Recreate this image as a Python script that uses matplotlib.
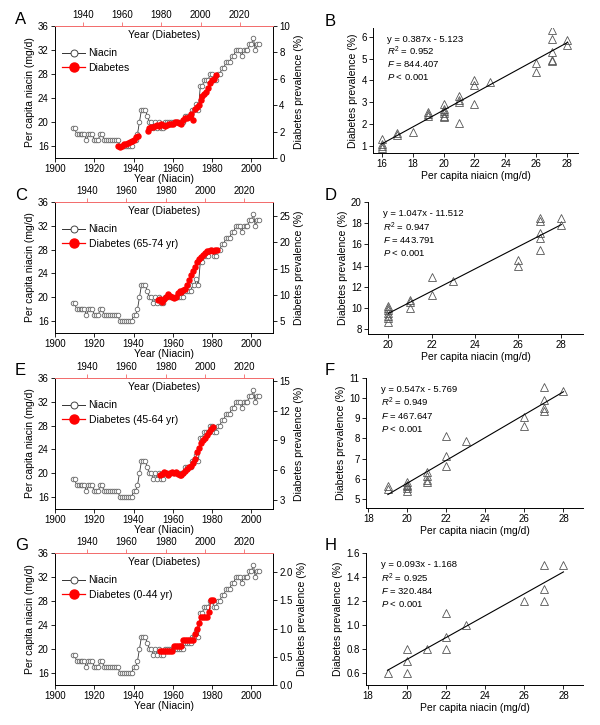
import numpy as np
import matplotlib
matplotlib.use('Agg')
import matplotlib.pyplot as plt
from matplotlib.lines import Line2D

plt.rcParams['font.family'] = ['Liberation Sans', 'DejaVu Sans']
plt.rcParams['mathtext.fontset'] = 'custom'
plt.rcParams['mathtext.rm'] = 'Liberation Sans'
plt.rcParams['mathtext.it'] = 'Liberation Sans:italic'

# --- niacin time series (shared by the four left panels) ---
niacin_years = list(range(1909, 2005))
niacin = [19, 19, 18, 18, 18, 18, 18, 17, 18, 18, 18,          # 1909-1919
          17, 17, 17, 18, 18, 17, 17, 17, 17, 17, 17, 17, 17,  # 1920-1932
          16, 16, 16, 16, 16, 16, 16,                          # 1933-1939
          17, 17, 18, 20, 22, 22, 22, 21, 20, 20,              # 1940s
          19, 20, 19, 20, 19, 19, 20, 20, 20, 20,              # 1950s
          20, 20, 20, 20, 20, 20, 21, 21, 21, 21,              # 1960s
          22, 22, 23, 22, 26, 26, 27, 27, 27, 28,              # 1970s
          28, 27, 27, 28, 28, 29, 29, 30, 30, 30,              # 1980s
          31, 31, 32, 32, 32, 31, 32, 32, 32, 33,              # 1990s
          33, 34, 32, 33, 33]                                  # 2000-2004

# --- diabetes time series (years on the top axis) ---
nan = np.nan
diab_years_all = list(range(1958, 2009))
diab_all = [0.93, 0.86, 0.91, 1.04, 1.05, 1.16, 1.21, 1.28, 1.39, 1.56, 1.65,
            nan, nan, nan, nan,
            2.05, 2.30, 2.35, 2.38, 2.40, 2.48, 2.45, 2.55, 2.50, 2.45,
            2.50, 2.55, 2.60, 2.55, 2.70, 2.75, 2.65, 2.55, 2.90, 3.00,
            3.05, 3.10, 3.30, 2.90, 3.70, 3.85, 4.00, 4.40, 4.70, 4.85,
            5.00, 5.30, 5.70, 5.90, 5.95, 6.30]

diab_years_65 = list(range(1976, 2007))
diab_65 = [9.1, 9.2, 8.7, 9.3, 9.7, 10.2, 9.9, 9.6, 9.4, 9.6,
           10.3, 10.7, 10.6, 10.9, 11.2, 12.0, 12.8, 13.9, 14.5, 15.4,
           16.3, 16.9, 17.3, 17.7, 18.0, 18.3, 18.4, 18.5, 18.4, 18.5, 18.6]

diab_years_45 = list(range(1977, 2005))
diab_45 = [5.5, 5.6, 5.8, 5.7, 5.5, 5.7, 5.8, 5.7, 5.8, 5.6,
           5.5, 5.5, 5.7, 5.9, 6.1, 6.3, 6.4, 6.7, 7.1, 7.8,
           8.2, 8.7, 9.0, 9.3, 9.6, 9.9, 10.2, 10.4]

diab_years_0 = list(range(1977, 2005))
diab_0 = [0.6, 0.6, 0.6, 0.6, 0.6, 0.6, 0.6, 0.7, 0.7, 0.7,
          0.7, 0.7, 0.8, 0.8, 0.8, 0.8, 0.8, 0.8, 0.9, 1.0,
          1.1, 1.2, 1.2, 1.2, 1.2, 1.3, 1.5, 1.5]

# --- scatter data: niacin vs diabetes ---
B_x = [16, 16, 16, 16, 17, 17, 18, 19, 19, 19, 20, 20, 20, 20, 20, 20,
       21, 21, 21, 21, 22, 22, 22, 23, 26, 26, 27, 27, 27, 27, 27, 28, 28]
B_y = [1.3, 1.1, 1.0, 0.9, 1.6, 1.5, 1.65, 2.55, 2.45, 2.35, 2.9, 2.7, 2.6, 2.5, 2.35, 2.3,
       3.3, 3.1, 3.0, 2.05, 4.0, 3.8, 2.9, 3.9, 4.8, 4.4, 6.3, 5.9, 5.3, 4.95, 4.9, 5.85, 5.6]

D_x = [20, 20, 20, 20, 20, 20, 20, 21, 21, 21, 22, 22, 23, 26, 26,
       27, 27, 27, 27, 27, 28, 28]
D_y = [10.2, 10.0, 9.8, 9.5, 9.3, 9.1, 8.7, 10.8, 10.6, 10.0, 12.9, 11.2, 12.6, 14.5, 14.0,
       18.5, 18.2, 17.1, 16.6, 15.5, 18.5, 17.8]

F_x = [19, 19, 20, 20, 20, 20, 20, 21, 21, 21, 21, 22, 22, 22, 23, 26, 26,
       27, 27, 27, 27, 28]
F_y = [5.63, 5.51, 5.83, 5.71, 5.63, 5.55, 5.41, 6.34, 6.16, 5.96, 5.83, 8.14, 7.12, 6.65,
       7.86, 9.05, 8.64, 10.54, 9.93, 9.51, 9.35, 10.34]

H_x = [19, 20, 20, 20, 21, 22, 22, 22, 23, 26, 27, 27, 27, 28]
H_y = [0.6, 0.8, 0.7, 0.6, 0.8, 1.1, 0.9, 0.8, 1.0, 1.2, 1.5, 1.3, 1.2, 1.5]

stats_text = [
    ('y = 0.387x - 5.123', '0.952', '844.407'),
    ('y = 1.047x - 11.512', '0.947', '443.791'),
    ('y = 0.547x - 5.769', '0.949', '467.647'),
    ('y = 0.093x - 1.168', '0.925', '320.484'),
]

W, H = 600, 725
RED = '#ff0000'
SPINE_RED = '#f26a6a'


def box(l, t, r, b):
    return [l / W, 1 - b / H, (r - l) / W, (b - t) / H]


def style_ticks(a):
    a.tick_params(direction='out', length=3, width=0.6, labelsize=7, pad=1.5)
    for s in a.spines.values():
        s.set_linewidth(0.7)


fig = plt.figure(figsize=(6, 7.25), dpi=100)

rows = [(26, 158), (202, 333), (378, 509), (553, 685)]
left_panels = [
    ('A', diab_years_all, diab_all, 'Diabetes', (0, 10), [0, 2, 4, 6, 8, 10], '%d', (1925.9, 2036.9)),
    ('C', diab_years_65, diab_65, 'Diabetes (65-74 yr)', (2.78, 27.7), [5, 10, 15, 20, 25], '%d', (1923.6, 2034.6)),
    ('E', diab_years_45, diab_45, 'Diabetes (45-64 yr)', (2.05, 15.34), [3, 6, 9, 12, 15], '%d', (1923.6, 2034.6)),
    ('G', diab_years_0, diab_0, 'Diabetes (0-44 yr)', (0, 2.34), [0, 0.5, 1.0, 1.5, 2.0], '%.1f', (1923.6, 2034.6)),
]

# --- left column: time series ---
for (top, bot), (letter, dyears, dvals, dlabel, rlim, rticks, rfmt, toplim) in zip(rows, left_panels):
    ax = fig.add_axes(box(55, top, 273, bot))
    ax.plot(niacin_years, niacin, '-', color='#333333', lw=0.6, marker='o', ms=3.3,
            mfc='white', mec='#666666', mew=0.6, zorder=2)
    ax.set_xlim(1900, 2011)
    ax.set_ylim(14, 36)
    ax.set_xticks(range(1900, 2001, 20))
    ax.set_yticks(range(16, 37, 4))
    ax.spines['top'].set_visible(False)
    ax.spines['right'].set_visible(False)
    style_ticks(ax)
    ax.set_xlabel('Year (Niacin)', fontsize=7.5, labelpad=0)
    ax.set_ylabel('Per capita niacin (mg/d)', fontsize=7.5, labelpad=2)

    ax2 = fig.add_axes(box(55, top, 273, bot), facecolor='none')
    ax2.plot(dyears, np.array(dvals, dtype=float), '-', color=RED, lw=0.8, marker='o', ms=3.6,
             mfc=RED, mec=RED, zorder=3)
    ax2.set_xlim(*toplim)
    ax2.set_ylim(*rlim)
    ax2.xaxis.tick_top()
    ax2.yaxis.tick_right()
    ax2.yaxis.set_label_position('right')
    ax2.set_xticks(range(1940, 2021, 20))
    ax2.set_yticks(rticks)
    ax2.set_yticklabels([rfmt % v for v in rticks])
    ax2.spines['left'].set_visible(False)
    ax2.spines['bottom'].set_visible(False)
    style_ticks(ax2)
    ax2.spines['top'].set_color(SPINE_RED)
    ax2.tick_params(axis='x', color=SPINE_RED)
    ax2.set_ylabel('Diabetes prevalence (%)', fontsize=7.5, labelpad=3)
    ax2.text(0.5, 0.93, 'Year (Diabetes)', transform=ax2.transAxes, ha='center', va='center',
             fontsize=7.5)

    handles = [
        Line2D([], [], color='#333333', lw=0.7, marker='o', ms=5, mfc='white', mec='#444444', mew=0.7),
        Line2D([], [], color=RED, lw=0.9, marker='o', ms=6.5, mfc=RED, mec=RED),
    ]
    ax2.legend(handles, ['Niacin', dlabel], loc='upper left', bbox_to_anchor=(0.03, 0.83),
               frameon=False, fontsize=7.5, handlelength=2.3, handletextpad=0.3,
               borderaxespad=0, borderpad=0, labelspacing=0.45)

    fig.text(15 / W, 1 - (top - 7) / H, letter, fontsize=12, ha='left', va='center')

# --- right column: scatter plots ---
right_panels = [
    ('B', B_x, B_y, (373, 28, 578, 153), (15.44, 28.69), (0.665, 6.4), [16, 18, 20, 22, 24, 26, 28],
     [1, 2, 3, 4, 5, 6], '%d', 'Per capita niaicn (mg/d)'),
    ('D', D_x, D_y, (368, 202, 583, 334), (19.06, 29.0), (7.56, 20), [20, 22, 24, 26, 28],
     [8, 10, 12, 14, 16, 18, 20], '%d', 'Per capita niacin (mg/d)'),
    ('F', F_x, F_y, (366, 378, 583, 508), (17.88, 29.0), (4.55, 11), [18, 20, 22, 24, 26, 28],
     [5, 6, 7, 8, 9, 10, 11], '%d', 'Per capita niacin (mg/d)'),
    ('H', H_x, H_y, (366, 553, 583, 685), (17.9, 29.0), (0.5, 1.6), [18, 20, 22, 24, 26, 28],
     [0.6, 0.8, 1.0, 1.2, 1.4, 1.6], '%.1f', 'Per capita niacin (mg/d)'),
]

for (letter, sx, sy, pos, xlim, ylim, xt, yt, yfmt, xlab), (eq, r2, fval) in zip(right_panels, stats_text):
    bx = fig.add_axes(box(*pos))
    bx.plot(sx, sy, linestyle='none', marker='^', ms=5.8, mfc='none', mec='#555555', mew=0.6)
    slope, icpt = np.polyfit(sx, sy, 1)
    xs = np.array([min(sx), max(sx)])
    bx.plot(xs, slope * xs + icpt, color='black', lw=0.8)
    bx.set_xlim(*xlim)
    bx.set_ylim(*ylim)
    bx.set_xticks(xt)
    bx.set_yticks(yt)
    bx.set_yticklabels([yfmt % v for v in yt])
    bx.spines['top'].set_visible(False)
    bx.spines['right'].set_visible(False)
    style_ticks(bx)
    bx.set_xlabel(xlab, fontsize=7.5, labelpad=1)
    bx.set_ylabel('Diabetes prevalence (%)', fontsize=7.5, labelpad=2)

    lines = [eq, r'$R^2$ = ' + r2, r'$F$ = ' + fval, r'$P$ < 0.001']
    for i, t in enumerate(lines):
        bx.text(0.07, 0.91 - i * 0.1, t, transform=bx.transAxes, ha='left', va='center', fontsize=6.8)

    fig.text(325 / W, 1 - (pos[1] - 7) / H, letter, fontsize=12, ha='left', va='center')

plt.savefig('out.png', dpi=100)
